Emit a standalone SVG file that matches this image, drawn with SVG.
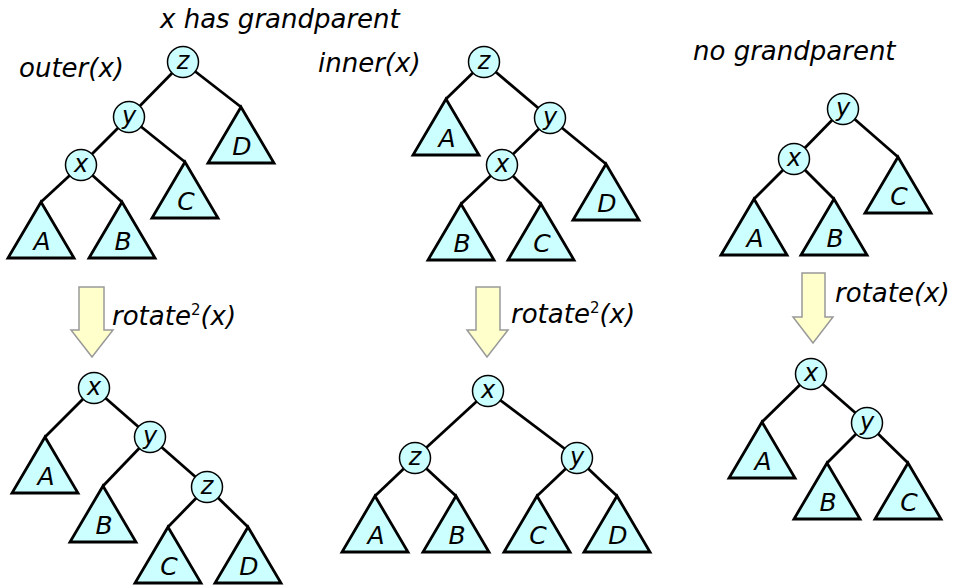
<svg xmlns="http://www.w3.org/2000/svg" xmlns:xlink="http://www.w3.org/1999/xlink" width="957" height="586" viewBox="0 0 957 586">
<style>
text{font-family:"DejaVu Sans","Liberation Sans",sans-serif;font-style:italic;fill:#000}
.lbl{font-size:26px}
.sup{font-size:15px;font-style:normal}
.nl{font-size:24px;text-anchor:middle}
.tl{font-size:25px;text-anchor:middle}
.edge{stroke:#000;stroke-width:2.8;fill:none}
.node circle{fill:#ccffff;stroke:#000;stroke-width:1.5}
.sub use{fill:#ccffff;stroke:#000;stroke-width:2.8;stroke-linejoin:miter}
.arrow{fill:#ffffcc;stroke:#999999;stroke-width:1.5}
</style>
<defs>
<polygon id="tri" points="0,0 -33,56 33,56"/>
</defs>
<rect width="957" height="586" fill="#fff"/>

<g id="labels">
<text class="lbl" x="160" y="28">x has grandparent</text>
<text class="lbl" x="19" y="77">outer(x)</text>
<text class="lbl" x="318" y="72">inner(x)</text>
<text class="lbl" x="693" y="60">no grandparent</text>
<text class="lbl" x="112" y="325">rotate<tspan class="sup" dy="-10">2</tspan><tspan dy="10">(x)</tspan></text>
<text class="lbl" x="511" y="323">rotate<tspan class="sup" dy="-10">2</tspan><tspan dy="10">(x)</tspan></text>
<text class="lbl" x="835" y="302">rotate(x)</text>
</g>

<g id="arrows">
<polygon id="arrow1" class="arrow" points="79,287 104,287 104,330 113,330 92,357 71,330 79,330"/>
<polygon id="arrow2" class="arrow" points="476,287 500,287 500,330 508,330 487,357 467,330 476,330"/>
<polygon id="arrow3" class="arrow" points="802,273 825,273 825,317 833,317 813,343 793,317 802,317"/>
</g>

<g id="connectors" class="edge">
<!-- tree 1 -->
<line x1="183" y1="62" x2="129" y2="117"/>
<line x1="183" y1="62" x2="241" y2="107"/>
<line x1="129" y1="117" x2="81" y2="165"/>
<line x1="129" y1="117" x2="185" y2="162"/>
<line x1="81" y1="165" x2="41" y2="202"/>
<line x1="81" y1="165" x2="122" y2="202"/>
<!-- tree 2 -->
<line x1="484" y1="62" x2="446" y2="99"/>
<line x1="484" y1="62" x2="550" y2="118"/>
<line x1="550" y1="118" x2="502" y2="165"/>
<line x1="550" y1="118" x2="606" y2="164"/>
<line x1="502" y1="165" x2="461" y2="204"/>
<line x1="502" y1="165" x2="541" y2="204"/>
<!-- tree 3 -->
<line x1="843" y1="109" x2="794" y2="159"/>
<line x1="843" y1="109" x2="898" y2="157"/>
<line x1="794" y1="159" x2="754" y2="199"/>
<line x1="794" y1="159" x2="834" y2="199"/>
<!-- tree 4 -->
<line x1="94" y1="388" x2="45" y2="437"/>
<line x1="94" y1="388" x2="150" y2="437"/>
<line x1="150" y1="437" x2="103" y2="486"/>
<line x1="150" y1="437" x2="207" y2="487"/>
<line x1="207" y1="487" x2="168" y2="527"/>
<line x1="207" y1="487" x2="248" y2="527"/>
<!-- tree 5 -->
<line x1="488" y1="391" x2="415" y2="458"/>
<line x1="488" y1="391" x2="577" y2="458"/>
<line x1="415" y1="458" x2="375" y2="496"/>
<line x1="415" y1="458" x2="456" y2="496"/>
<line x1="577" y1="458" x2="537" y2="496"/>
<line x1="577" y1="458" x2="617" y2="496"/>
<!-- tree 6 -->
<line x1="811" y1="374" x2="762" y2="422"/>
<line x1="811" y1="374" x2="867" y2="423"/>
<line x1="867" y1="423" x2="827" y2="463"/>
<line x1="867" y1="423" x2="908" y2="463"/>
</g>

<!-- tree 1 -->
<g id="t1-z" class="node"><circle cx="183" cy="62" r="15.5"/><text class="nl" x="183" y="69">z</text></g>
<g id="t1-y" class="node"><circle cx="129" cy="117" r="15.5"/><text class="nl" x="129" y="124">y</text></g>
<g id="t1-x" class="node"><circle cx="81" cy="165" r="15.5"/><text class="nl" x="81" y="172">x</text></g>
<g id="t1-A" class="sub"><use xlink:href="#tri" x="41" y="202"/><text class="tl" x="42" y="250">A</text></g>
<g id="t1-B" class="sub"><use xlink:href="#tri" x="122" y="202"/><text class="tl" x="123" y="250">B</text></g>
<g id="t1-C" class="sub"><use xlink:href="#tri" x="185" y="162"/><text class="tl" x="186" y="210">C</text></g>
<g id="t1-D" class="sub"><use xlink:href="#tri" x="241" y="107"/><text class="tl" x="242" y="155">D</text></g>

<!-- tree 2 -->
<g id="t2-z" class="node"><circle cx="484" cy="62" r="15.5"/><text class="nl" x="484" y="69">z</text></g>
<g id="t2-y" class="node"><circle cx="550" cy="118" r="15.5"/><text class="nl" x="550" y="125">y</text></g>
<g id="t2-x" class="node"><circle cx="502" cy="165" r="15.5"/><text class="nl" x="502" y="172">x</text></g>
<g id="t2-A" class="sub"><use xlink:href="#tri" x="446" y="99"/><text class="tl" x="447" y="147">A</text></g>
<g id="t2-B" class="sub"><use xlink:href="#tri" x="461" y="204"/><text class="tl" x="462" y="252">B</text></g>
<g id="t2-C" class="sub"><use xlink:href="#tri" x="541" y="204"/><text class="tl" x="542" y="252">C</text></g>
<g id="t2-D" class="sub"><use xlink:href="#tri" x="606" y="164"/><text class="tl" x="607" y="212">D</text></g>

<!-- tree 3 -->
<g id="t3-y" class="node"><circle cx="843" cy="109" r="15.5"/><text class="nl" x="843" y="116">y</text></g>
<g id="t3-x" class="node"><circle cx="794" cy="159" r="15.5"/><text class="nl" x="794" y="166">x</text></g>
<g id="t3-A" class="sub"><use xlink:href="#tri" x="754" y="199"/><text class="tl" x="755" y="247">A</text></g>
<g id="t3-B" class="sub"><use xlink:href="#tri" x="834" y="199"/><text class="tl" x="835" y="247">B</text></g>
<g id="t3-C" class="sub"><use xlink:href="#tri" x="898" y="157"/><text class="tl" x="899" y="205">C</text></g>

<!-- tree 4 -->
<g id="t4-x" class="node"><circle cx="94" cy="388" r="15.5"/><text class="nl" x="94" y="395">x</text></g>
<g id="t4-y" class="node"><circle cx="150" cy="437" r="15.5"/><text class="nl" x="150" y="444">y</text></g>
<g id="t4-z" class="node"><circle cx="207" cy="487" r="15.5"/><text class="nl" x="207" y="494">z</text></g>
<g id="t4-A" class="sub"><use xlink:href="#tri" x="45" y="437"/><text class="tl" x="46" y="485">A</text></g>
<g id="t4-B" class="sub"><use xlink:href="#tri" x="103" y="486"/><text class="tl" x="104" y="534">B</text></g>
<g id="t4-C" class="sub"><use xlink:href="#tri" x="168" y="527"/><text class="tl" x="169" y="575">C</text></g>
<g id="t4-D" class="sub"><use xlink:href="#tri" x="248" y="527"/><text class="tl" x="249" y="575">D</text></g>

<!-- tree 5 -->
<g id="t5-x" class="node"><circle cx="488" cy="391" r="15.5"/><text class="nl" x="488" y="398">x</text></g>
<g id="t5-z" class="node"><circle cx="415" cy="458" r="15.5"/><text class="nl" x="415" y="465">z</text></g>
<g id="t5-y" class="node"><circle cx="577" cy="458" r="15.5"/><text class="nl" x="577" y="465">y</text></g>
<g id="t5-A" class="sub"><use xlink:href="#tri" x="375" y="496"/><text class="tl" x="376" y="544">A</text></g>
<g id="t5-B" class="sub"><use xlink:href="#tri" x="456" y="496"/><text class="tl" x="457" y="544">B</text></g>
<g id="t5-C" class="sub"><use xlink:href="#tri" x="537" y="496"/><text class="tl" x="538" y="544">C</text></g>
<g id="t5-D" class="sub"><use xlink:href="#tri" x="617" y="496"/><text class="tl" x="618" y="544">D</text></g>

<!-- tree 6 -->
<g id="t6-x" class="node"><circle cx="811" cy="374" r="15.5"/><text class="nl" x="811" y="381">x</text></g>
<g id="t6-y" class="node"><circle cx="867" cy="423" r="15.5"/><text class="nl" x="867" y="430">y</text></g>
<g id="t6-A" class="sub"><use xlink:href="#tri" x="762" y="422"/><text class="tl" x="763" y="470">A</text></g>
<g id="t6-B" class="sub"><use xlink:href="#tri" x="827" y="463"/><text class="tl" x="828" y="511">B</text></g>
<g id="t6-C" class="sub"><use xlink:href="#tri" x="908" y="463"/><text class="tl" x="909" y="511">C</text></g>
</svg>
